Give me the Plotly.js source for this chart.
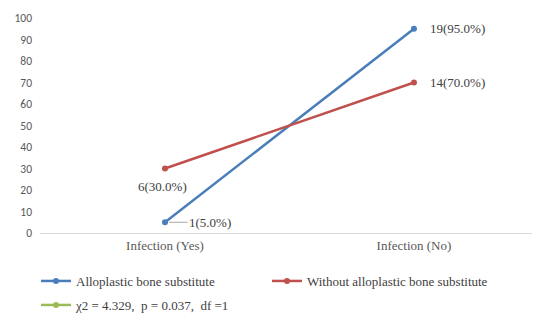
<!DOCTYPE html>
<html><head><meta charset="utf-8">
<script src="https://cdn.plot.ly/plotly-3.0.1.min.js"></script>
<style>body{margin:0;background:#fff}#c{width:534px;height:313px}</style>
</head><body><div id="c"></div>
<script>
const categories = ["Infection (Yes)", "Infection (No)"];
const alloCounts = [1, 19];
const alloPct = [5, 95];
const withoutCounts = [6, 14];
const withoutPct = [30, 70];
const seriesNames = ["Alloplastic bone substitute", "Without alloplastic bone substitute", "\u03c72 = 4.329,  p = 0.037,  df =1"];
const yTicks = [0, 10, 20, 30, 40, 50, 60, 70, 80, 90, 100];

const lbl = (c, p) => c.map((v, i) => v + "(" + p[i].toFixed(1) + "%)");
const alloText = lbl(alloCounts, alloPct);
const withoutText = lbl(withoutCounts, withoutPct);
const serif = "Liberation Serif, Times New Roman, serif";
const lblFont = {family: serif, size: 13, color: "#404040"};

const traces = [
  {x: categories, y: alloPct, name: seriesNames[0], type: "scatter", mode: "lines+markers",
   line: {color: "#4a7ebb", width: 2.5}, marker: {color: "#4a7ebb", size: 6}},
  {x: categories, y: withoutPct, name: seriesNames[1], type: "scatter", mode: "lines+markers",
   line: {color: "#c0504d", width: 2.5}, marker: {color: "#c0504d", size: 6}},
  {x: categories, y: [null, null], name: seriesNames[2], type: "scatter", mode: "lines+markers",
   legend: "legend2",
   line: {color: "#9bbb59", width: 2.5}, marker: {color: "#9bbb59", size: 6}}
];

const annotations = [
  {x: categories[0], y: alloPct[0], text: alloText[0], showarrow: true, arrowhead: 0, arrowwidth: 1,
   arrowcolor: "#a6a6a6", ax: 45, ay: 0, standoff: 4, font: lblFont},
  {x: categories[1], y: alloPct[1], text: alloText[1], showarrow: false, xanchor: "left", xshift: 14, font: lblFont},
  {x: categories[0], y: withoutPct[0], text: withoutText[0], showarrow: false, xanchor: "center", yshift: -18, xshift: -2, font: lblFont},
  {x: categories[1], y: withoutPct[1], text: withoutText[1], showarrow: false, xanchor: "left", xshift: 14, font: lblFont}
].map(a => Object.assign({xref: "x", yref: "y"}, a));

const ph = 313 - 18 - 80;
const pw = 534 - 40 - 2;
const layout = {
  width: 534, height: 313,
  margin: {l: 40, r: 2, t: 18, b: 80, autoexpand: false},
  paper_bgcolor: "#fff", plot_bgcolor: "#fff",
  showlegend: true,
  xaxis: {type: "category", range: [-0.502, 1.474], showgrid: false, zeroline: false,
    showline: true, linecolor: "#d9d9d9", linewidth: 1, ticks: "",
    tickfont: {family: serif, size: 13, color: "#595959"}},
  yaxis: {range: [0, 100], tickvals: yTicks, showgrid: false, zeroline: false, showline: false,
    ticks: "", ticklabelstandoff: 7,
    tickfont: {family: "Carlito, Liberation Sans, sans-serif", size: 11.5, color: "#595959"}},
  legend: {orientation: "h", x: (36 - 40) / pw, xanchor: "left", y: -(266 - 233) / ph, yanchor: "top",
    font: {family: serif, size: 13, color: "#404040"}, entrywidth: 186, entrywidthmode: "pixels",
    bgcolor: "rgba(0,0,0,0)"},
  legend2: {orientation: "h", x: (36 - 40) / pw, xanchor: "left", y: -(290 - 233) / ph, yanchor: "top",
    font: {family: serif, size: 13, color: "#404040"}, bgcolor: "rgba(0,0,0,0)"},
  annotations: annotations
};
Plotly.newPlot("c", traces, layout, {displayModeBar: false, staticPlot: true});
</script></body></html>
